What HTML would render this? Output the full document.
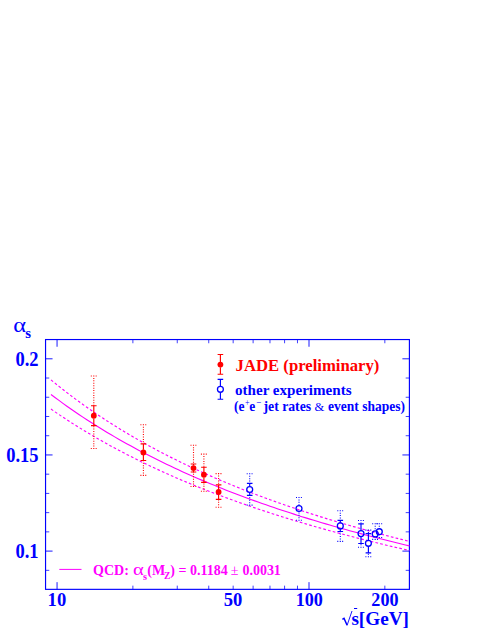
<!DOCTYPE html>
<html><head><meta charset="utf-8"><title>alpha_s</title>
<style>html,body{margin:0;padding:0;background:#fff;}body{width:491px;height:635px;position:relative;overflow:hidden;font-family:"Liberation Serif",serif;}</style>
</head><body>
<svg width="491" height="635" viewBox="0 0 491 635" style="position:absolute;left:0;top:0">
<rect x="45.55" y="339.55" width="363.84999999999997" height="249.8" fill="none" stroke="#0000ff" stroke-width="1.15"/>
<path d="M45.55,551.10h7M409.4,551.10h-7M45.55,454.95h7M409.4,454.95h-7M45.55,358.80h7M409.4,358.80h-7M57.05,589.35v-7.2M57.05,339.55v7.2M309.00,589.35v-7.2M309.00,339.55v7.2" stroke="#0000ff" stroke-width="0.9" fill="none"/>
<path d="M45.55,570.33h3.7M409.4,570.33h-3.7M45.55,531.87h3.7M409.4,531.87h-3.7M45.55,512.64h3.7M409.4,512.64h-3.7M45.55,493.41h3.7M409.4,493.41h-3.7M45.55,474.18h3.7M409.4,474.18h-3.7M45.55,435.72h3.7M409.4,435.72h-3.7M45.55,416.49h3.7M409.4,416.49h-3.7M45.55,397.26h3.7M409.4,397.26h-3.7M45.55,378.03h3.7M409.4,378.03h-3.7M132.89,589.35v-3.7M132.89,339.55v3.7M177.26,589.35v-3.7M177.26,339.55v3.7M208.74,589.35v-3.7M208.74,339.55v3.7M233.16,589.35v-3.7M233.16,339.55v3.7M253.11,589.35v-3.7M253.11,339.55v3.7M269.97,589.35v-3.7M269.97,339.55v3.7M284.58,589.35v-3.7M284.58,339.55v3.7M297.47,589.35v-3.7M297.47,339.55v3.7M384.84,589.35v-3.7M384.84,339.55v3.7" stroke="#0000ff" stroke-width="0.75" fill="none"/>
<path d="M51.00,394.48 L54.98,397.48 L58.96,400.43 L62.95,403.33 L66.93,406.18 L70.91,408.98 L74.89,411.73 L78.88,414.43 L82.86,417.09 L86.84,419.71 L90.82,422.28 L94.80,424.81 L98.79,427.30 L102.77,429.75 L106.75,432.16 L110.73,434.53 L114.72,436.87 L118.70,439.16 L122.68,441.43 L126.66,443.66 L130.64,445.85 L134.63,448.02 L138.61,450.15 L142.59,452.24 L146.57,454.31 L150.56,456.35 L154.54,458.36 L158.52,460.34 L162.50,462.29 L166.48,464.21 L170.47,466.11 L174.45,467.98 L178.43,469.83 L182.41,471.65 L186.40,473.44 L190.38,475.21 L194.36,476.96 L198.34,478.68 L202.32,480.38 L206.31,482.06 L210.29,483.72 L214.27,485.35 L218.25,486.97 L222.24,488.56 L226.22,490.14 L230.20,491.69 L234.18,493.22 L238.16,494.74 L242.15,496.23 L246.13,497.71 L250.11,499.17 L254.09,500.61 L258.08,502.04 L262.06,503.45 L266.04,504.84 L270.02,506.21 L274.00,507.57 L277.99,508.91 L281.97,510.24 L285.95,511.55 L289.93,512.85 L293.92,514.13 L297.90,515.40 L301.88,516.65 L305.86,517.89 L309.84,519.11 L313.83,520.33 L317.81,521.52 L321.79,522.71 L325.77,523.88 L329.76,525.04 L333.74,526.19 L337.72,527.32 L341.70,528.45 L345.68,529.56 L349.67,530.66 L353.65,531.74 L357.63,532.82 L361.61,533.89 L365.60,534.94 L369.58,535.98 L373.56,537.02 L377.54,538.04 L381.52,539.05 L385.51,540.05 L389.49,541.05 L393.47,542.03 L397.45,543.00 L401.44,543.96 L405.42,544.92 L409.40,545.86" stroke="#ff00ff" stroke-width="1.1" fill="none"/>
<path d="M51.00,379.87 L54.98,383.14 L58.96,386.35 L62.95,389.50 L66.93,392.59 L70.91,395.63 L74.89,398.61 L78.88,401.54 L82.86,404.42 L86.84,407.25 L90.82,410.03 L94.80,412.76 L98.79,415.45 L102.77,418.09 L106.75,420.69 L110.73,423.25 L114.72,425.76 L118.70,428.23 L122.68,430.67 L126.66,433.06 L130.64,435.42 L134.63,437.74 L138.61,440.03 L142.59,442.28 L146.57,444.50 L150.56,446.68 L154.54,448.83 L158.52,450.95 L162.50,453.03 L166.48,455.09 L170.47,457.12 L174.45,459.11 L178.43,461.08 L182.41,463.02 L186.40,464.94 L190.38,466.82 L194.36,468.69 L198.34,470.52 L202.32,472.33 L206.31,474.12 L210.29,475.88 L214.27,477.62 L218.25,479.33 L222.24,481.02 L226.22,482.69 L230.20,484.34 L234.18,485.97 L238.16,487.58 L242.15,489.16 L246.13,490.73 L250.11,492.27 L254.09,493.80 L258.08,495.31 L262.06,496.80 L266.04,498.27 L270.02,499.72 L274.00,501.16 L277.99,502.58 L281.97,503.98 L285.95,505.36 L289.93,506.73 L293.92,508.08 L297.90,509.42 L301.88,510.74 L305.86,512.05 L309.84,513.34 L313.83,514.61 L317.81,515.87 L321.79,517.12 L325.77,518.36 L329.76,519.58 L333.74,520.78 L337.72,521.98 L341.70,523.16 L345.68,524.32 L349.67,525.48 L353.65,526.62 L357.63,527.75 L361.61,528.87 L365.60,529.98 L369.58,531.07 L373.56,532.15 L377.54,533.23 L381.52,534.29 L385.51,535.34 L389.49,536.38 L393.47,537.41 L397.45,538.43 L401.44,539.43 L405.42,540.43 L409.40,541.42" stroke="#ff00ff" stroke-width="1.15" fill="none" stroke-dasharray="2.7,2.2"/>
<path d="M51.00,409.08 L54.98,411.83 L58.96,414.53 L62.95,417.19 L66.93,419.80 L70.91,422.37 L74.89,424.90 L78.88,427.39 L82.86,429.84 L86.84,432.25 L90.82,434.62 L94.80,436.95 L98.79,439.25 L102.77,441.51 L106.75,443.74 L110.73,445.93 L114.72,448.09 L118.70,450.22 L122.68,452.32 L126.66,454.39 L130.64,456.42 L134.63,458.43 L138.61,460.41 L142.59,462.36 L146.57,464.28 L150.56,466.18 L154.54,468.05 L158.52,469.89 L162.50,471.71 L166.48,473.51 L170.47,475.28 L174.45,477.02 L178.43,478.75 L182.41,480.45 L186.40,482.12 L190.38,483.78 L194.36,485.41 L198.34,487.03 L202.32,488.62 L206.31,490.19 L210.29,491.75 L214.27,493.28 L218.25,494.79 L222.24,496.29 L226.22,497.77 L230.20,499.23 L234.18,500.67 L238.16,502.09 L242.15,503.50 L246.13,504.89 L250.11,506.26 L254.09,507.62 L258.08,508.96 L262.06,510.29 L266.04,511.60 L270.02,512.90 L274.00,514.18 L277.99,515.44 L281.97,516.70 L285.95,517.93 L289.93,519.16 L293.92,520.37 L297.90,521.57 L301.88,522.75 L305.86,523.92 L309.84,525.08 L313.83,526.23 L317.81,527.37 L321.79,528.49 L325.77,529.60 L329.76,530.70 L333.74,531.78 L337.72,532.86 L341.70,533.93 L345.68,534.98 L349.67,536.02 L353.65,537.05 L357.63,538.08 L361.61,539.09 L365.60,540.09 L369.58,541.08 L373.56,542.06 L377.54,543.04 L381.52,544.00 L385.51,544.95 L389.49,545.90 L393.47,546.83 L397.45,547.76 L401.44,548.67 L405.42,549.58 L409.40,550.48" stroke="#ff00ff" stroke-width="1.15" fill="none" stroke-dasharray="2.7,2.2"/>
<path d="M59.3,569.4H81.5" stroke="#ff00ff" stroke-width="1" fill="none"/>
<path d="M93.8,375.5V405.7M93.8,449.0V425.6M90.8,376.0h6.0M90.8,448.5h6.0" stroke="#ff0000" stroke-width="1.1" stroke-dasharray="1,1.43" fill="none"/><path d="M93.8,405.7V413.1M93.8,418.3V425.6M91.0,405.7h5.6M91.0,425.6h5.6" stroke="#ff0000" stroke-width="1.15" fill="none"/><circle cx="93.8" cy="415.7" r="2.9" fill="#ff0000"/>
<path d="M143.4,424.3V443.8M143.4,475.9V460.5M140.4,424.8h6.0M140.4,475.4h6.0" stroke="#ff0000" stroke-width="1.1" stroke-dasharray="1,1.43" fill="none"/><path d="M143.4,443.8V449.8M143.4,455.0V460.5M140.6,443.8h5.6M140.6,460.5h5.6" stroke="#ff0000" stroke-width="1.15" fill="none"/><circle cx="143.4" cy="452.4" r="2.9" fill="#ff0000"/>
<path d="M193.5,444.7V464.0M193.5,487.0V472.0M190.5,445.2h6.0M190.5,486.5h6.0" stroke="#ff0000" stroke-width="1.1" stroke-dasharray="1,1.43" fill="none"/><path d="M193.5,464.0V465.5M193.5,470.7V472.0M190.7,464.0h5.6M190.7,472.0h5.6" stroke="#ff0000" stroke-width="1.15" fill="none"/><circle cx="193.5" cy="468.1" r="2.9" fill="#ff0000"/>
<path d="M203.9,453.6V467.2M203.9,491.7V482.4M200.9,454.1h6.0M200.9,491.2h6.0" stroke="#ff0000" stroke-width="1.1" stroke-dasharray="1,1.43" fill="none"/><path d="M203.9,467.2V472.1M203.9,477.3V482.4M201.1,467.2h5.6M201.1,482.4h5.6" stroke="#ff0000" stroke-width="1.15" fill="none"/><circle cx="203.9" cy="474.7" r="2.9" fill="#ff0000"/>
<path d="M218.6,473.1V484.9M218.6,507.7V499.4M215.6,473.6h6.0M215.6,507.2h6.0" stroke="#ff0000" stroke-width="1.1" stroke-dasharray="1,1.43" fill="none"/><path d="M218.6,484.9V489.4M218.6,494.6V499.4M215.8,484.9h5.6M215.8,499.4h5.6" stroke="#ff0000" stroke-width="1.15" fill="none"/><circle cx="218.6" cy="492.0" r="2.9" fill="#ff0000"/>
<path d="M249.7,473.3V483.3M249.7,505.6V495.3M246.7,473.8h6.0M246.7,505.1h6.0" stroke="#0000ff" stroke-width="1.1" stroke-dasharray="1,1.43" fill="none"/><path d="M249.7,483.3V486.3M249.7,492.7V495.3M246.9,483.3h5.6M246.9,495.3h5.6" stroke="#0000ff" stroke-width="1.15" fill="none"/><circle cx="249.7" cy="489.5" r="2.95" fill="none" stroke="#0000ff" stroke-width="1.3"/>
<path d="M299.0,497.0V505.0M299.0,520.7V512.0M296.0,497.5h6.0M296.0,520.2h6.0" stroke="#0000ff" stroke-width="1.1" stroke-dasharray="1,1.43" fill="none"/><circle cx="299.0" cy="508.5" r="2.95" fill="none" stroke="#0000ff" stroke-width="1.3"/>
<path d="M340.3,510.2V520.4M340.3,541.9V531.5M337.3,510.7h6.0M337.3,541.4h6.0" stroke="#0000ff" stroke-width="1.1" stroke-dasharray="1,1.43" fill="none"/><path d="M340.3,520.4V522.7M340.3,529.1V531.5M337.5,520.4h5.6M337.5,531.5h5.6" stroke="#0000ff" stroke-width="1.15" fill="none"/><circle cx="340.3" cy="525.9" r="2.95" fill="none" stroke="#0000ff" stroke-width="1.3"/>
<path d="M361.0,520.0V523.8M361.0,547.7V543.5M358.0,520.5h6.0M358.0,547.2h6.0" stroke="#0000ff" stroke-width="1.1" stroke-dasharray="1,1.43" fill="none"/><path d="M361.0,523.8V530.4M361.0,536.8V543.5M358.2,523.8h5.6M358.2,543.5h5.6" stroke="#0000ff" stroke-width="1.15" fill="none"/><circle cx="361.0" cy="533.6" r="2.95" fill="none" stroke="#0000ff" stroke-width="1.3"/>
<path d="M368.4,529.6V533.6M368.4,557.2V552.9M365.4,530.1h6.0M365.4,556.7h6.0" stroke="#0000ff" stroke-width="1.1" stroke-dasharray="1,1.43" fill="none"/><path d="M368.4,533.6V540.1M368.4,546.5V552.9M365.6,533.6h5.6M365.6,552.9h5.6" stroke="#0000ff" stroke-width="1.15" fill="none"/><circle cx="368.4" cy="543.3" r="2.95" fill="none" stroke="#0000ff" stroke-width="1.3"/>
<path d="M375.2,523.3V530.4M375.2,539.9V537.4M372.2,523.8h6.0M372.2,539.4h6.0" stroke="#0000ff" stroke-width="1.1" stroke-dasharray="1,1.43" fill="none"/><circle cx="375.2" cy="533.9" r="2.95" fill="none" stroke="#0000ff" stroke-width="1.3"/>
<path d="M379.3,523.3V528.2M379.3,538.0V535.2M376.3,523.8h6.0M376.3,537.5h6.0" stroke="#0000ff" stroke-width="1.1" stroke-dasharray="1,1.43" fill="none"/><circle cx="379.3" cy="531.7" r="2.95" fill="none" stroke="#0000ff" stroke-width="1.3"/>
<path d="M220.4,354.5V362.0M220.4,367.2V374.2M217.6,354.5h5.6M217.6,374.2h5.6" stroke="#ff0000" stroke-width="1.15" fill="none"/><circle cx="220.4" cy="364.6" r="2.9" fill="#ff0000"/>
<path d="M220.4,379.4V386.1M220.4,392.5V399.2M217.6,379.4h5.6M217.6,399.2h5.6" stroke="#0000ff" stroke-width="1.15" fill="none"/><circle cx="220.4" cy="389.3" r="2.95" fill="none" stroke="#0000ff" stroke-width="1.3"/>
<text transform="translate(38.5,365.6) scale(1,1.08)" font-size="18.5" fill="#0000ff" text-anchor="end" font-family="Liberation Serif, serif" font-weight="bold" >0.2</text>
<text transform="translate(38.5,462) scale(1,1.08)" font-size="18.5" fill="#0000ff" text-anchor="end" font-family="Liberation Serif, serif" font-weight="bold" >0.15</text>
<text transform="translate(38.5,558) scale(1,1.08)" font-size="18.5" fill="#0000ff" text-anchor="end" font-family="Liberation Serif, serif" font-weight="bold" >0.1</text>
<text transform="translate(56.9,605.9) scale(1,1.03)" font-size="18.6" fill="#0000ff" text-anchor="middle" font-family="Liberation Serif, serif" font-weight="bold" >10</text>
<text transform="translate(233.1,605.9) scale(1,1.03)" font-size="18.6" fill="#0000ff" text-anchor="middle" font-family="Liberation Serif, serif" font-weight="bold" >50</text>
<text transform="translate(309.2,605.9) scale(1,1.03)" font-size="18.1" fill="#0000ff" text-anchor="middle" font-family="Liberation Serif, serif" font-weight="bold" >100</text>
<text transform="translate(384.9,605.9) scale(1,1.03)" font-size="18.1" fill="#0000ff" text-anchor="middle" font-family="Liberation Serif, serif" font-weight="bold" >200</text>
<text transform="translate(235.6,370.6) scale(1,1.04)" font-size="16.7" fill="#ff0000" text-anchor="start" font-family="Liberation Serif, serif" font-weight="bold" >JADE (preliminary)</text>
<text transform="translate(235.0,394.6) scale(1,1.03)" font-size="15.1" fill="#0000ff" text-anchor="start" font-family="Liberation Serif, serif" font-weight="bold" >other experiments</text>
<text transform="translate(0,411.3) scale(1,1.03)" font-size="13.5" fill="#0000ff" font-family="Liberation Serif, serif" font-weight="bold"><tspan x="234.1">(e</tspan><tspan x="245.0" dy="-5" font-size="11" font-weight="normal" textLength="4.6" lengthAdjust="spacingAndGlyphs">+</tspan><tspan x="249.3" dy="5">e</tspan><tspan x="256.2" dy="-5" font-size="11" font-weight="normal" textLength="5" lengthAdjust="spacingAndGlyphs">−</tspan><tspan x="263.5" dy="5" font-size="13.75">jet rates</tspan><tspan x="314.4" font-weight="normal" font-size="12.6">&amp;</tspan><tspan x="328.1">event shapes)</tspan></text>
<text transform="translate(0,575.2) scale(1,1.05)" font-size="14" fill="#ff00ff" font-family="Liberation Serif, serif" font-weight="bold"><tspan x="93.1">QCD:</tspan><tspan x="133" font-weight="normal" font-size="15" textLength="10.8" lengthAdjust="spacingAndGlyphs">α</tspan><tspan x="143.1" dy="4.3" font-size="10.3">s</tspan><tspan x="147.3" dy="-4.3">(M</tspan><tspan x="164" dy="4" font-size="9.5">Z</tspan><tspan x="170.3" dy="-4">) = 0.1184</tspan><tspan x="230.8" font-weight="normal">±</tspan><tspan x="242.4">0.0031</tspan></text>
<text y="332" font-size="21.5" fill="#0000ff" font-family="Liberation Serif, serif" font-weight="bold"><tspan x="13.3" font-weight="normal" textLength="12.8" lengthAdjust="spacingAndGlyphs">α</tspan><tspan x="25.3" dy="6.4" font-size="14.8">s</tspan></text>
<text transform="translate(351.4,624.9) scale(1,1.0)" font-size="19.2" fill="#0000ff" text-anchor="start" font-family="Liberation Serif, serif" font-weight="bold" >s[GeV]</text>
<path d="M342.4,619.3L344.0,618.3L347.0,625.0" stroke="#0000ff" stroke-width="1.5" fill="none" stroke-linejoin="miter"/>
<path d="M347.0,625.6L352.0,611.0" stroke="#0000ff" stroke-width="0.9" fill="none"/>
<path d="M354.0,608.5H357.2" stroke="#0000ff" stroke-width="1" fill="none"/>
</svg>
</body></html>
